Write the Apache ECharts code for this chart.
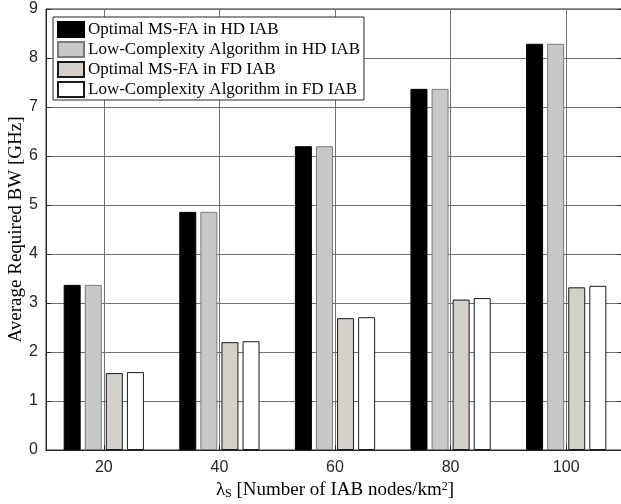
<!DOCTYPE html>
<html>
<head>
<meta charset="utf-8">
<script src="https://cdn.jsdelivr.net/npm/echarts@6/dist/echarts.min.js"></script>
<style>
  html, body { margin: 0; padding: 0; background: #fff; }
  #chart { width: 621px; height: 504px; }
</style>
</head>
<body>
<div id="chart"></div>
<script>
const categories = ['20', '40', '60', '80', '100'];
const seriesNames = [
    'Optimal MS-FA in HD IAB',
    'Low-Complexity Algorithm in HD IAB',
    'Optimal MS-FA in FD IAB',
    'Low-Complexity Algorithm in FD IAB'
];
const optimalHD = [3.37, 4.86, 6.20, 7.37, 8.29];
const lowComplexityHD = [3.37, 4.86, 6.20, 7.37, 8.29];
const optimalFD = [1.57, 2.20, 2.69, 3.07, 3.32];
const lowComplexityFD = [1.59, 2.22, 2.71, 3.10, 3.35];
const yTicks = [0, 1, 2, 3, 4, 5, 6, 7, 8, 9];

const fills = ['#000000', '#c8c8c8', '#d4d0c8', '#ffffff'];
const borders = ['#000000', '#7a7a7a', '#1a1a1a', '#1a1a1a'];

const SERIF = '"Liberation Serif", "DejaVu Serif", serif';
const SANS = '"Liberation Sans", Arial, sans-serif';

const chart = echarts.init(document.getElementById('chart'), null, { renderer: 'canvas' });

function buildSeries() {
    const values = [optimalHD, lowComplexityHD, optimalFD, lowComplexityFD];
    return values.map(function (data, i) {
        return {
            name: seriesNames[i],
            type: 'bar',
            data: data,
            barWidth: 17,
            barGap: '24%',
            itemStyle: { color: fills[i], borderColor: borders[i], borderWidth: 1 },
            emphasis: { disabled: true }
        };
    });
}

const option = {
    animation: false,
    backgroundColor: '#fff',
    grid: {
        left: 46, top: 9, width: 578, height: 441,
        outerBoundsMode: 'none',
        containLabel: false,
        show: true, borderColor: '#262626', borderWidth: 1, backgroundColor: 'transparent'
    },
    legend: {
        orient: 'vertical',
        left: 53, top: 17,
        padding: [4, 4, 2, 4],
        itemWidth: 26, itemHeight: 15, itemGap: 3,
        backgroundColor: '#fff',
        borderColor: '#262626', borderWidth: 1, borderRadius: 0,
        icon: 'rect',
        data: seriesNames,
        textStyle: { fontFamily: SERIF, fontSize: 17, color: '#000', padding: [0, 0, 0, -1] }
    },
    xAxis: {
        type: 'category',
        data: categories,
        name: '{l|λ}{s|S} [Number of IAB nodes/km{p|2}]',
        nameLocation: 'middle',
        nameGap: 26,
        nameTextStyle: {
            fontFamily: SERIF, fontSize: 19, color: '#000',
            rich: {
                l: { fontFamily: SERIF, fontSize: 19, color: '#000' },
                s: { fontFamily: SERIF, fontSize: 12, color: '#000', verticalAlign: 'bottom', padding: [7, 0, 0, 0] },
                p: { fontFamily: SERIF, fontSize: 12, color: '#000', verticalAlign: 'top', padding: [0, 0, 7, 0] }
            }
        },
        axisLine: { lineStyle: { color: '#262626', width: 1 } },
        axisTick: { show: true, inside: true, alignWithLabel: true, length: 5, lineStyle: { color: '#262626' } },
        axisLabel: { fontFamily: SANS, fontSize: 16, color: '#262626', margin: 10 },
        splitLine: { show: true, alignWithLabel: true, lineStyle: { color: '#707070', width: 1 } },
        z: 0
    },
    yAxis: [{
        type: 'value',
        min: 0, max: 9, interval: 1,
        name: 'Average Required BW [GHz]',
        nameLocation: 'middle',
        nameGap: 20,
        nameMoveOverlap: false,
        nameTextStyle: { fontFamily: SERIF, fontSize: 19, color: '#000' },
        axisLine: { show: true, lineStyle: { color: '#262626', width: 1 } },
        axisTick: { show: true, inside: true, length: 5, lineStyle: { color: '#262626' } },
        axisLabel: {
            fontFamily: SANS, fontSize: 16, color: '#262626', margin: 8,
            formatter: function (v) { return yTicks.indexOf(v) >= 0 ? String(v) : ''; }
        },
        splitLine: { show: true, lineStyle: { color: '#707070', width: 1 } }
    }, {
        type: 'value',
        position: 'right',
        min: 0, max: 9, interval: 1,
        axisLine: { show: true, lineStyle: { color: '#262626' } },
        axisTick: { show: true, inside: true, length: 6, lineStyle: { color: '#262626' } },
        axisLabel: { show: false },
        splitLine: { show: false }
    }],
    series: buildSeries()
};

chart.setOption(option);
</script>
</body>
</html>
